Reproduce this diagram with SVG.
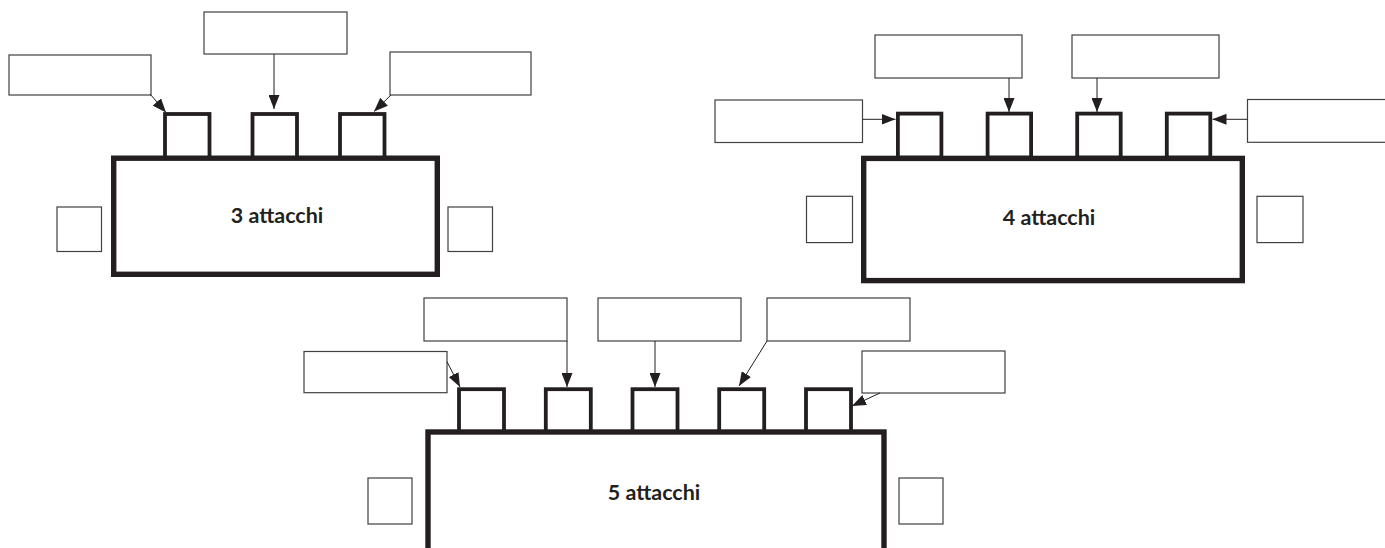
<svg xmlns="http://www.w3.org/2000/svg" width="1385" height="548" viewBox="0 0 1385 548">
<defs>
<marker id="ah" viewBox="0 0 14 11" refX="14" refY="5.5" markerWidth="14" markerHeight="11" markerUnits="userSpaceOnUse" orient="auto">
<path d="M0,0 L14,5.5 L0,11 Z" fill="#231f20"/>
</marker>
<style>
.lbl{fill:#fff;stroke:#414042;stroke-width:1.2}
.sq{fill:#fff;stroke:#414042;stroke-width:1.2}
.tab{fill:#fff;stroke:#231f20;stroke-width:3.8}
.main{fill:#fff;stroke:#231f20;stroke-width:5.4}
.conn line{stroke:#231f20;stroke-width:1;marker-end:url(#ah)}
.t{font-family:Lato,"Liberation Sans",sans-serif;font-weight:700;font-size:21.5px;fill:#231f20;text-anchor:middle}
</style>
</defs>
<rect width="1385" height="548" fill="#fff"/>

<g id="table3">
<g id="t3-tab1"><rect class="tab" x="165" y="114" width="44.5" height="44"/></g>
<g id="t3-tab2"><rect class="tab" x="252.5" y="114" width="44.5" height="44"/></g>
<g id="t3-tab3"><rect class="tab" x="340" y="114" width="44.5" height="44"/></g>
<g id="t3-main"><rect class="main" x="113.7" y="158.2" width="323.6" height="116.1"/>
<text class="t" x="277" y="223">3 attacchi</text></g>
<g id="t3-sqL"><rect class="sq" x="57" y="207" width="44.5" height="44.5"/></g>
<g id="t3-sqR"><rect class="sq" x="448" y="207" width="44.5" height="44.5"/></g>
<g id="t3-lblL"><rect class="lbl" x="9" y="55" width="142" height="40"/></g>
<g id="t3-lblM"><rect class="lbl" x="204" y="12" width="143" height="42"/></g>
<g id="t3-lblR"><rect class="lbl" x="390" y="52" width="141" height="43"/></g>
</g>

<g id="table4">
<g id="t4-tab1"><rect class="tab" x="897.9" y="113.6" width="43.5" height="44"/></g>
<g id="t4-tab2"><rect class="tab" x="987.6" y="113.6" width="43.5" height="44"/></g>
<g id="t4-tab3"><rect class="tab" x="1077.2" y="113.6" width="43.5" height="44"/></g>
<g id="t4-tab4"><rect class="tab" x="1166.8" y="113.6" width="43.5" height="44"/></g>
<g id="t4-main"><rect class="main" x="863.7" y="158.4" width="378.6" height="122.2"/>
<text class="t" x="1049" y="225">4 attacchi</text></g>
<g id="t4-sqL"><rect class="sq" x="806.5" y="196.3" width="46" height="46.3"/></g>
<g id="t4-sqR"><rect class="sq" x="1257" y="196.3" width="46" height="46.3"/></g>
<g id="t4-lblL"><rect class="lbl" x="715" y="100" width="147.5" height="42.5"/></g>
<g id="t4-lblT1"><rect class="lbl" x="875" y="35" width="147" height="43"/></g>
<g id="t4-lblT2"><rect class="lbl" x="1072" y="35" width="147" height="43"/></g>
<g id="t4-lblR"><rect class="lbl" x="1247.5" y="99.5" width="150" height="42.8"/></g>
</g>

<g id="table5">
<g id="t5-tab1"><rect class="tab" x="459" y="389.2" width="45" height="43"/></g>
<g id="t5-tab2"><rect class="tab" x="545.8" y="389.2" width="45" height="43"/></g>
<g id="t5-tab3"><rect class="tab" x="632.5" y="389.2" width="45" height="43"/></g>
<g id="t5-tab4"><rect class="tab" x="719.2" y="389.2" width="45" height="43"/></g>
<g id="t5-tab5"><rect class="tab" x="806" y="389.2" width="45" height="43"/></g>
<g id="t5-main"><rect class="main" x="428" y="432" width="456" height="140"/>
<text class="t" x="654" y="500">5 attacchi</text></g>
<g id="t5-sqL"><rect class="sq" x="368" y="478" width="44" height="46"/></g>
<g id="t5-sqR"><rect class="sq" x="899" y="478" width="44" height="46"/></g>
<g id="t5-lblL"><rect class="lbl" x="304" y="351.5" width="143" height="41.2"/></g>
<g id="t5-lblT1"><rect class="lbl" x="424" y="298" width="143" height="43"/></g>
<g id="t5-lblT2"><rect class="lbl" x="598" y="298" width="143" height="43"/></g>
<g id="t5-lblT3"><rect class="lbl" x="767" y="298" width="143" height="43"/></g>
<g id="t5-lblR"><rect class="lbl" x="862" y="351" width="143" height="42"/></g>
</g>

<g id="connectors" class="conn">
<line x1="150" y1="94" x2="166" y2="112.5"/>
<line x1="274" y1="54" x2="274" y2="109"/>
<line x1="391" y1="95" x2="374" y2="111.5"/>
<line x1="862.5" y1="119.3" x2="895.5" y2="119.3"/>
<line x1="1009" y1="78" x2="1009" y2="112"/>
<line x1="1097" y1="78" x2="1097" y2="112"/>
<line x1="1247.5" y1="119.3" x2="1212.5" y2="119.3"/>
<line x1="447" y1="361.7" x2="460" y2="387"/>
<line x1="567" y1="341" x2="567" y2="387"/>
<line x1="655" y1="341" x2="655" y2="387"/>
<line x1="767" y1="341" x2="739" y2="386"/>
<line x1="880" y1="393" x2="852" y2="406"/>
</g>
</svg>
